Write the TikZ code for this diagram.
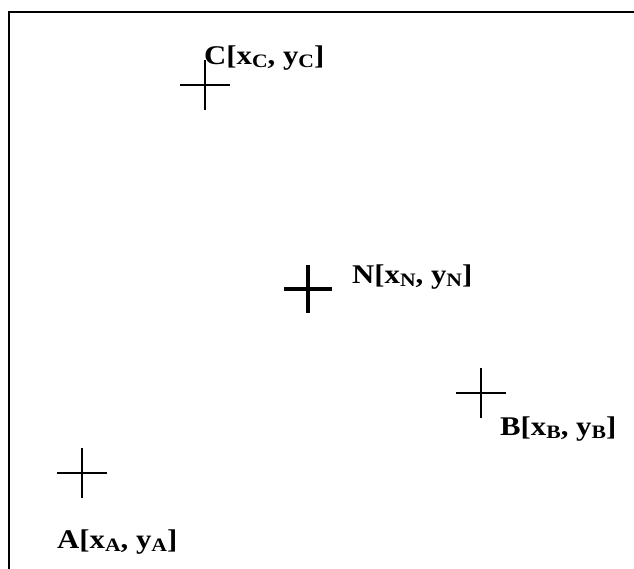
\documentclass[tikz,border=0pt]{standalone}
\usepackage{graphicx}
\usepackage{fontspec}
\setmainfont{Liberation Serif}
\newcommand{\ind}[1]{\raisebox{-0.12em}{\fontsize{19}{19}\selectfont #1}}
\newcommand{\bod}[1]{\scalebox{1.14}[1]{#1}}
\tikzset{
  ramec/.style = {line width=2.4pt},
  kriz/.style  = {line width=1.4pt},
  krizN/.style = {line width=3.2pt},
  popis/.style = {font=\fontsize{27}{30}\selectfont\bfseries, inner sep=0, anchor=base west}
}

\begin{document}
\begin{tikzpicture}[x=1pt, y=-1pt]
  \useasboundingbox (0,0) rectangle (634,568);
  \draw[ramec] (9,570) -- (9,12) -- (636,12);

  \coordinate (A) at (82,473);
  \coordinate (B) at (481,393);
  \coordinate (C) at (205,85);
  \coordinate (N) at (308,289);

  \draw[kriz]  (A) ++(-25,0) -- ++(50,0) (A) ++(0,-25) -- ++(0,50);
  \draw[kriz]  (B) ++(-25,0) -- ++(50,0) (B) ++(0,-25) -- ++(0,50);
  \draw[kriz]  (C) ++(-25,0) -- ++(50,0) (C) ++(0,-25) -- ++(0,50);
  \draw[krizN] (N) ++(-24,0) -- ++(48,0) (N) ++(0,-24) -- ++(0,48);

  \node[popis] (lA) at (57,548)  {\bod{A[x\ind{A}, y\ind{A}]}};
  \node[popis] (lB) at (500,435) {\bod{B[x\ind{B}, y\ind{B}]}};
  \node[popis] (lC) at (204,64)  {\bod{C[x\ind{C}, y\ind{C}]}};
  \node[popis] (lN) at (352,283) {\bod{N[x\ind{N}, y\ind{N}]}};
\end{tikzpicture}
\end{document}
